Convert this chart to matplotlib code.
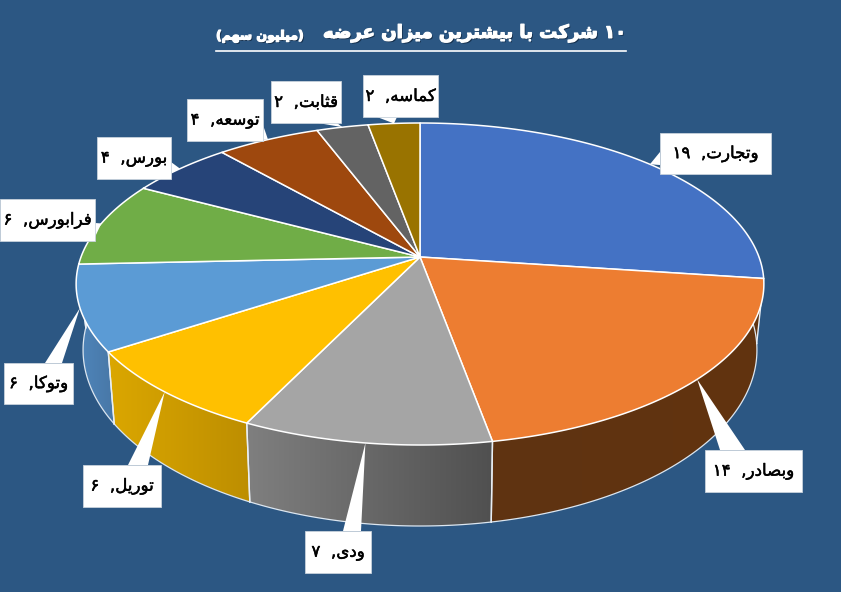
import numpy as np
import matplotlib
matplotlib.use("Agg")
import matplotlib.pyplot as plt
from matplotlib import patheffects as pe
from matplotlib.colors import to_rgb
from matplotlib.patches import Polygon

# ---- data ----
companies = ["وتجارت", "وبصادر", "ودی", "توریل", "وتوکا", "فرابورس", "بورس", "توسعه", "قثابت", "کماسه"]
values = [19, 14, 7, 6, 6, 6, 4, 4, 2, 2]
title_main = "۱۰ شرکت با بیشترین میزان عرضه"
title_unit = "(میلیون سهم)"
top_colors = ["#4472C4", "#ED7D31", "#A5A5A5", "#FFC000", "#5B9BD5", "#70AD47", "#264478", "#9E480E", "#636363", "#997300"]
side_left = ["#2F5597", "#5F3312", "#7F7F7F", "#DBA700", "#4F86BC", "#507A32", "#1B3055", "#6E320A", "#454545", "#6B5000"]
side_right = ["#2F5597", "#62340F", "#505050", "#BD8E00", "#4877A6", "#507A32", "#1B3055", "#6E320A", "#454545", "#6B5000"]
bg = "#2C5783"

# label box: (x0, y0, x1, y1), leader base on box edge
boxes = [
    (660, 133, 771, 174), (705, 450, 802, 492), (305, 531, 371, 573), (83, 465, 161, 507), (4, 363, 73, 404),
    (0, 199, 95, 241), (97, 137, 171, 179), (187, 99, 263, 141), (271, 81, 341, 123), (363, 75, 438, 117),
]
bases = [
    ((660, 152), (660, 165)), ((720, 450), (745, 450)), ((343, 531), (361, 531)), ((128, 465), (148, 465)), ((45, 363), (62, 363)),
    ((95, 223), (95, 237)), ((171, 162), (171, 173)), ((245, 141), (263, 125)), ((318, 123), (337, 123)), ((377, 117), (397, 117)),
]

# ---- minimal Persian shaping (matplotlib has no text shaping) ----
FORMS = {
    "ا": (0xFE8D, 0xFE8E), "د": (0xFEA9, 0xFEAA), "ر": (0xFEAD, 0xFEAE), "ز": (0xFEAF, 0xFEB0), "و": (0xFEED, 0xFEEE),
    "ب": (0xFE8F, 0xFE90, 0xFE91, 0xFE92), "ت": (0xFE95, 0xFE96, 0xFE97, 0xFE98), "ث": (0xFE99, 0xFE9A, 0xFE9B, 0xFE9C),
    "ج": (0xFE9D, 0xFE9E, 0xFE9F, 0xFEA0), "س": (0xFEB1, 0xFEB2, 0xFEB3, 0xFEB4), "ش": (0xFEB5, 0xFEB6, 0xFEB7, 0xFEB8),
    "ص": (0xFEB9, 0xFEBA, 0xFEBB, 0xFEBC), "ض": (0xFEBD, 0xFEBE, 0xFEBF, 0xFEC0), "ع": (0xFEC9, 0xFECA, 0xFECB, 0xFECC),
    "ف": (0xFED1, 0xFED2, 0xFED3, 0xFED4), "ق": (0xFED5, 0xFED6, 0xFED7, 0xFED8), "ک": (0xFB8E, 0xFB8F, 0xFB90, 0xFB91),
    "ل": (0xFEDD, 0xFEDE, 0xFEDF, 0xFEE0), "م": (0xFEE1, 0xFEE2, 0xFEE3, 0xFEE4), "ن": (0xFEE5, 0xFEE6, 0xFEE7, 0xFEE8),
    "ه": (0xFEE9, 0xFEEA, 0xFEEB, 0xFEEC), "ی": (0xFBFC, 0xFBFD, 0xFBFE, 0xFBFF),
}

def shape(word):
    out = []
    for i, ch in enumerate(word):
        f = FORMS.get(ch)
        if f is None:
            out.append(ch)
            continue
        prev = word[i - 1] if i else ""
        nxt = word[i + 1] if i + 1 < len(word) else ""
        joins_prev = prev in FORMS and len(FORMS[prev]) == 4
        joins_next = nxt in FORMS and len(f) == 4
        if joins_prev and joins_next:
            c = f[3]
        elif joins_prev:
            c = f[1]
        elif joins_next:
            c = f[2]
        else:
            c = f[0]
        out.append(chr(c))
    return "".join(out)

def visual(s):
    words = s.split(" ")
    res = []
    for w in reversed(words):
        if all("\u06f0" <= c <= "\u06f9" for c in w):
            res.append(w)
        else:
            t = shape(w.strip("()"))[::-1]
            if w.startswith("("):
                t = t + ")"
            if w.endswith(")"):
                t = "(" + t
            res.append(t)
    return " ".join(res)

def fa_digits(n):
    return "".join(chr(0x06F0 + int(c)) for c in str(n))

# ---- perspective projection of the pie ----
def plane(far, mid, near, half):
    c = (2 * mid - far - near) / (far - near)
    a = far * (1 + c) - mid
    return a, mid, c, half

TOP = plane(123.0, 257.0, 445.0, 339.0)
BOT = plane(174.0, 320.0, 526.0, 332.0)
CX = 420.0

def proj(theta, pl, r=1.0):
    a, b, c, A = pl
    u, v = r * np.sin(theta), r * np.cos(theta)
    w = 1 + c * v
    return CX + A * u / w, (a * v + b) / w

fig = plt.figure(figsize=(8.41, 5.92), dpi=100, facecolor=bg)
ax = fig.add_axes([0, 0, 1, 1])
ax.axis("off")

edges = np.cumsum([0] + values) / sum(values) * 2 * np.pi

# sides: gradient image clipped to the extruded arc
for i in range(len(values)):
    t0, t1 = edges[i], edges[i + 1]
    if t1 <= np.pi * 0.5 or t0 >= np.pi * 1.55:
        continue
    ts = np.linspace(t0, t1, 100)
    xt, yt = proj(ts, TOP)
    xb, yb = proj(ts, BOT)
    px = np.r_[xt, xb[::-1]]
    py = np.r_[yt, yb[::-1]]
    c0, c1 = np.array(to_rgb(side_left[i])), np.array(to_rgb(side_right[i]))
    grad = np.linspace(0, 1, 256)[None, :, None]
    img = c0[None, None, :] + (c1 - c0)[None, None, :] * grad
    poly = Polygon(np.c_[px, py], closed=True, facecolor="none", edgecolor="none", transform=ax.transData)
    ax.add_patch(poly)
    im = ax.imshow(img, extent=(px.min(), px.max(), py.max(), py.min()), aspect="auto", zorder=2, interpolation="bilinear")
    im.set_clip_path(poly)
    ax.plot(xb, yb, color="#DCE6F0", lw=0.9, zorder=2.5)
    if i != 1:
        ax.plot([xt[0], xb[0]], [yt[0], yb[0]], color="#E8EEF4", lw=1.0, zorder=2.6)
    ax.plot([xt[-1], xb[-1]], [yt[-1], yb[-1]], color="#E8EEF4", lw=1.0, zorder=2.6)

ax.set_xlim(0, 841)
ax.set_ylim(592, 0)

# top faces
cx0, cy0 = proj(np.array(0.0), TOP, 0.0)
for i in range(len(values)):
    ts = np.linspace(edges[i], edges[i + 1], 120)
    x, y = proj(ts, TOP)
    ax.fill(np.r_[cx0, x], np.r_[cy0, y], facecolor=top_colors[i], edgecolor="white", lw=1.1,
            joinstyle="round", zorder=3)

# labels
mids = (edges[:-1] + edges[1:]) / 2
for i, name in enumerate(companies):
    x0, y0, x1, y1 = boxes[i]
    tx, ty = proj(mids[i], TOP)
    (bx0, by0), (bx1, by1) = bases[i]
    ax.fill([tx, bx0, bx1], [ty, by0, by1], facecolor="white", edgecolor="none", zorder=5)
    ax.fill([x0, x1, x1, x0], [y0, y0, y1, y1], facecolor="white", edgecolor="#C8D2DC", lw=0.6, zorder=5)
    ax.text((x0 + x1) / 2, (y0 + y1) / 2, fa_digits(values[i]) + "  ," + visual(name),
            ha="center", va="center", fontsize=12, color="black", zorder=6, family="DejaVu Sans",
            path_effects=[pe.withStroke(linewidth=0.35, foreground="black")])

# title
shadow = [pe.withSimplePatchShadow(offset=(1, -1), shadow_rgbFace="#10263F", alpha=0.8),
          pe.withStroke(linewidth=0.9, foreground="white")]
ax.text(626, 33, visual(title_main), ha="right", va="center", fontsize=13, fontweight="bold", color="white",
        family="DejaVu Sans", path_effects=shadow, zorder=6)
ax.text(216, 36, visual(title_unit), ha="left", va="center", fontsize=9, fontweight="bold", color="white",
        family="DejaVu Sans", path_effects=shadow, zorder=6)
ax.plot([216, 626], [50.5, 50.5], color="white", lw=1.2, zorder=6)

fig.savefig("out.png", dpi=100, facecolor=bg)
